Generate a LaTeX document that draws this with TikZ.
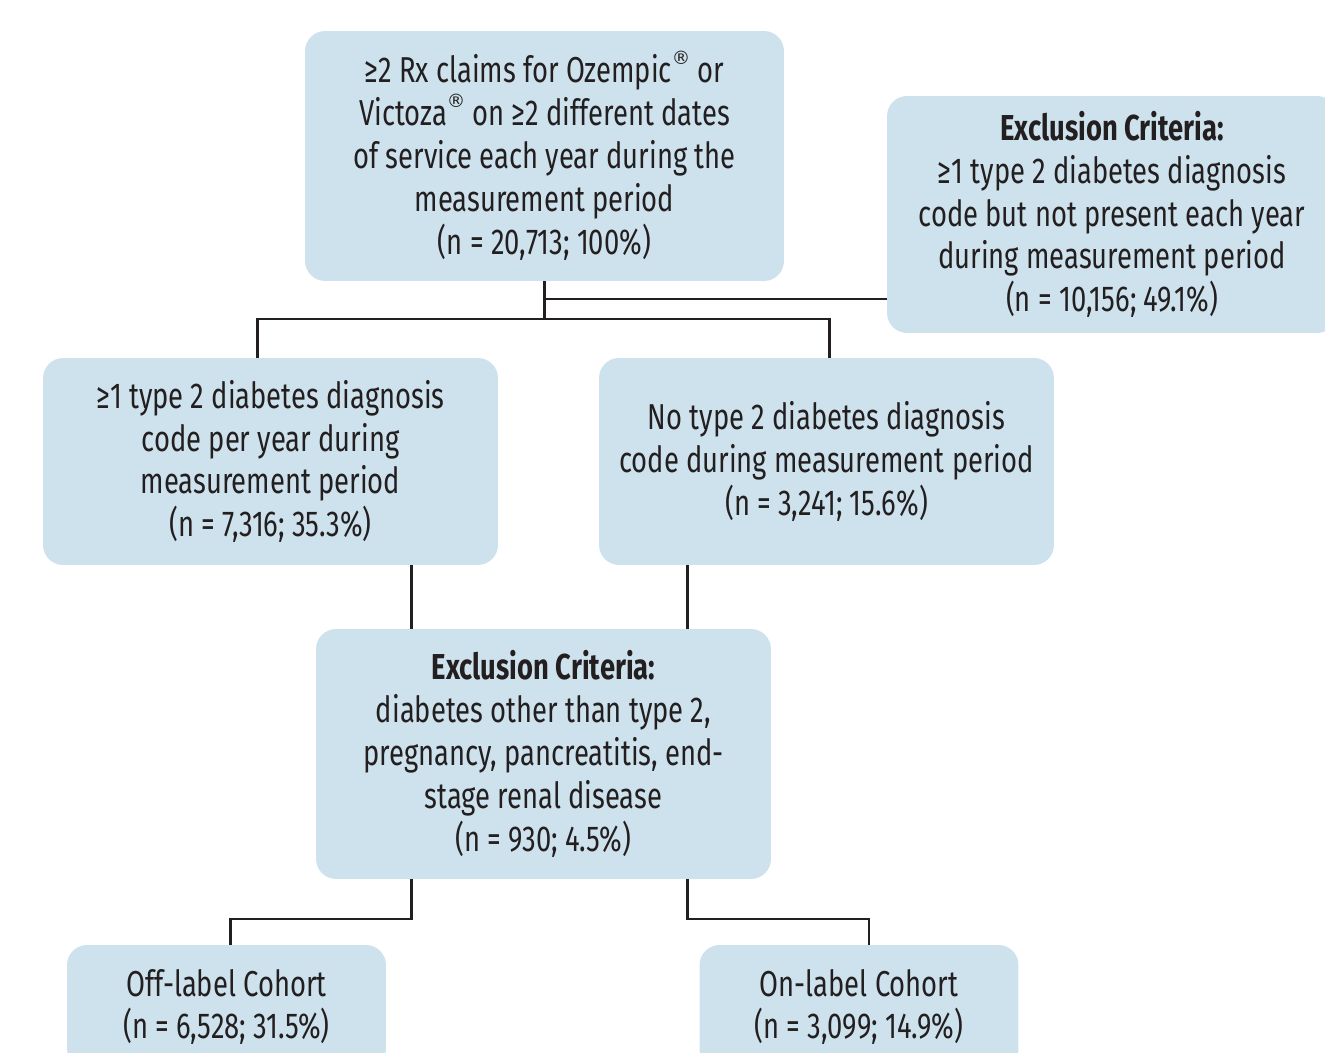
\documentclass[tikz,border=0pt]{standalone}
\usepackage{fontspec}
\setmainfont[FakeStretch=0.76]{Fira Sans}
\newfontfamily\regfont{DejaVu Sans}
\usetikzlibrary{positioning, calc}
\definecolor{boxcol}{RGB}{205,226,236}
\definecolor{inkcol}{RGB}{35,31,32}
\newcommand{\regmark}{\raisebox{0.5em}{\regfont\fontsize{10.5}{10.5}\selectfont ®}}

\begin{document}
\begin{tikzpicture}[
			x=0.02cm,
			y=-0.02cm,
			box/.style={
				fill=boxcol,
				rounded corners=0.4cm,
				align=center,
				inner sep=0pt,
				text=inkcol,
				font=\fontsize{20.5}{24.4}\selectfont
			},
			link/.style={
				draw=inkcol,
				line width=1.2pt
			}
			]
			\useasboundingbox (0,0) rectangle (1325,1053);
			
			% Boxes
			\node[box, minimum width=9.58cm, minimum height=5cm] (claims) at (544.5,156)
			{≥2 Rx claims for Ozempic\regmark{} or\\
			 Victoza\regmark{} on ≥2 different dates\\
			 of service each year during the\\
			 measurement period\\
			 (n = 20,713; 100\%)};
			\node[box, minimum width=9cm, minimum height=4.74cm] (exclA) at (1112,214.5)
			{\textbf{Exclusion Criteria:}\\
			 ≥1 type 2 diabetes diagnosis\\
			 code but not present each year\\
			 during measurement period\\
			 (n = 10,156; 49.1\%)};
			\node[box, minimum width=9.1cm, minimum height=4.14cm] (withdx) at (270.5,461.5)
			{≥1 type 2 diabetes diagnosis\\
			 code per year during\\
			 measurement period\\
			 (n = 7,316; 35.3\%)};
			\node[box, minimum width=9.1cm, minimum height=4.14cm] (nodx) at (826.5,461.5)
			{No type 2 diabetes diagnosis\\
			 code during measurement period\\
			 (n = 3,241; 15.6\%)};
			\node[box, minimum width=9.1cm, minimum height=5cm] (exclB) at (543.5,754)
			{\textbf{Exclusion Criteria:}\\
			 diabetes other than type 2,\\
			 pregnancy, pancreatitis, end-\\
			 stage renal disease\\
			 (n = 930; 4.5\%)};
			\node[box, minimum width=6.38cm, minimum height=2.48cm] (offlabel) at (226.5,1007)
			{Off-label Cohort\\
			 (n = 6,528; 31.5\%)};
			\node[box, minimum width=6.38cm, minimum height=2.48cm] (onlabel) at (859,1007)
			{On-label Cohort\\
			 (n = 3,099; 14.9\%)};
			
			% Connectors
			\coordinate (tap) at ($(claims.south)+(0,18)$);
			\coordinate (fork) at ($(claims.south)+(0,38)$);
			\coordinate (inL) at ($(exclB.north)+(-132,0)$);
			\coordinate (inR) at ($(exclB.north)+(144,0)$);
			\coordinate (outL) at ($(exclB.south)+(-132,40)$);
			\coordinate (outR) at ($(exclB.south)+(144,40)$);
			\coordinate (dropL) at ($(withdx.north)+(-13,0)$);
			\coordinate (dropR) at ($(nodx.north)+(3,0)$);
			
			\draw[link] (claims.south) -- (fork);
			\draw[link] (tap) -- (tap -| exclA.west);
			\draw[link] (dropL) -- (dropL |- fork) -- (dropR |- fork) -- (dropR);
			\draw[link] (withdx.south -| inL) -- (inL);
			\draw[link] (nodx.south -| inR) -- (inR);
			\draw[link] (exclB.south -| outL) -- (outL) -| ($(offlabel.north)+(4,0)$);
			\draw[link] (exclB.south -| outR) -- (outR) -| ($(onlabel.north)+(10,0)$);
		\end{tikzpicture}
\end{document}
